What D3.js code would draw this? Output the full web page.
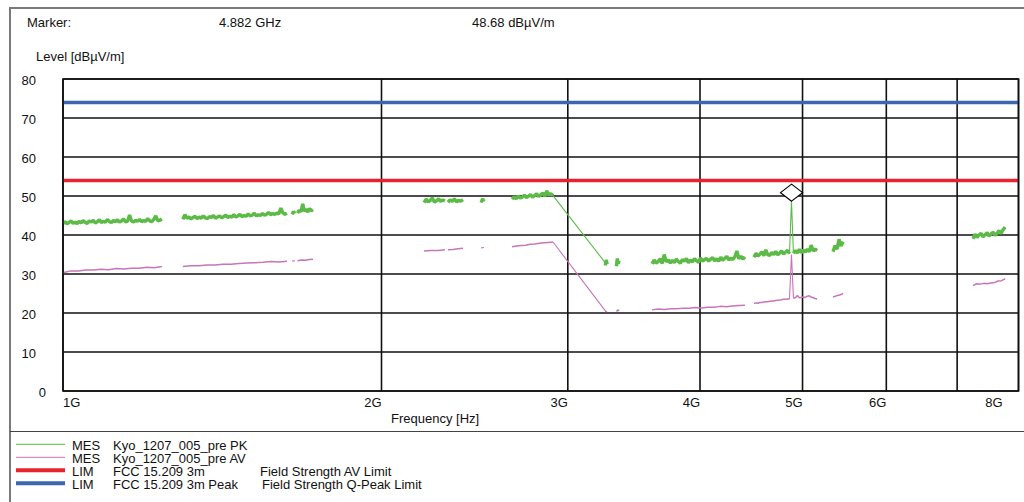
<!DOCTYPE html>
<html>
<head>
<meta charset="utf-8">
<script src="https://cdn.jsdelivr.net/npm/d3@7"></script>
<style>
  html, body { margin: 0; padding: 0; background: #fff; }
  svg { display: block; font-family: "Liberation Sans", Arial, sans-serif; }
</style>
</head>
<body>
<svg id="chart" width="1024" height="502"></svg>
<script>
// ---- Data ---------------------------------------------------------------
// Frequency axis ticks (GHz) and their labels; 7 GHz gets a grid line only.
const freqTicks = [1, 2, 3, 4, 5, 6, 7, 8];
const freqLabels = ["1G", "2G", "3G", "4G", "5G", "6G", "", "8G"];
const levelTicks = [0, 10, 20, 30, 40, 50, 60, 70, 80];

// Limit lines (dBµV/m)
const avLimit = 54;
const peakLimit = 74;

// Marker readout
const markerFreq = 4.882;   // GHz
const markerLevel = 48.68;  // dBµV/m

// Peak trace: each sweep part is [start GHz, stop GHz, levels dBµV/m]
const pkTrace = [
  [1.000, 1.240, [43.0, 43.4, 42.9, 43.2, 43.6, 43.0, 43.3, 42.9, 43.5, 43.1,
                  43.7, 43.2, 43.0, 43.6, 43.3, 43.8, 43.1, 43.4, 43.9, 43.2,
                  43.5, 43.3, 44.0, 43.4, 43.2, 43.7, 43.4, 43.9, 43.3, 43.6,
                  44.1, 43.4, 43.5, 45.1, 43.6, 43.3, 43.8, 43.5, 44.0, 43.4,
                  43.7, 43.5, 44.2, 43.6, 43.4, 44.0, 44.9, 43.6, 43.8, 44.1]],
  [1.298, 1.628, [44.0, 45.2, 44.3, 44.6, 44.1, 44.5, 44.8, 44.2, 44.6, 44.3,
                  44.9, 44.4, 44.2, 44.7, 44.5, 45.0, 44.3, 44.6, 44.9, 44.4,
                  44.7, 45.1, 44.5, 44.8, 44.6, 45.2, 44.6, 44.9, 45.3, 44.7,
                  45.0, 44.8, 45.4, 44.9, 45.1, 45.6, 44.9, 45.2, 45.0, 45.5,
                  45.1, 45.3, 45.8, 45.2, 45.5, 45.3, 45.6, 45.4, 46.9, 45.7,
                  45.3, 45.6]],
  [1.646, 1.657, [45.3, 46.0, 45.5]],
  [1.666, 1.723, [45.6, 46.4, 45.9, 48.0, 46.1, 46.6, 45.9, 46.8, 46.2, 46.5]],
  [2.194, 2.296, [48.3, 49.2, 48.5, 48.9, 49.5, 48.4, 48.8, 49.3, 48.6, 49.0, 48.7]],
  [2.311, 2.388, [48.4, 49.0, 48.6, 49.3, 48.5, 48.9, 48.7, 49.1]],
  [2.484, 2.500, [48.3, 49.3, 48.6]],
  [2.657, 2.905, [49.2, 49.8, 49.3, 50.0, 49.5, 49.7, 50.2, 49.6, 49.9, 50.4,
                  49.7, 50.1, 50.6, 49.9, 50.3, 50.8, 50.0, 51.3, 50.2, 50.6, 50.1]],
  [2.905, 3.261, [50.1, 32.6]],
  [3.255, 3.268, [32.2, 33.6, 32.5]],
  [3.335, 3.354, [32.0, 34.0, 32.6, 33.4]],
  [3.604, 4.411, [32.6, 33.6, 32.8, 33.2, 33.9, 32.7, 35.0, 33.1, 33.7, 32.8,
                  33.5, 32.9, 33.8, 33.2, 32.8, 33.7, 33.3, 34.0, 32.9, 33.6,
                  33.1, 33.9, 33.4, 33.0, 34.1, 33.3, 33.7, 34.0, 33.3, 33.8,
                  34.2, 33.4, 33.9, 33.3, 34.3, 33.5, 34.0, 34.5, 33.6, 34.1,
                  33.7, 34.4, 35.9, 33.9, 34.6, 33.8, 34.4]],
  [4.499, 5.161, [34.3, 35.3, 34.6, 35.1, 35.7, 34.7, 36.2, 34.9, 34.8, 35.5,
                  35.0, 35.8, 34.9, 35.4, 35.9, 35.1, 35.6, 36.1, 35.2, 48.68,
                  35.3, 36.0, 35.4, 36.3, 35.5, 36.1, 35.6, 36.4, 35.7, 37.4,
                  35.9, 36.4, 36.0]],
  [5.343, 5.461, [35.7, 37.3, 36.4, 38.9, 37.2, 38.3]],
  [7.246, 7.771, [39.0, 40.2, 39.4, 40.0, 40.4, 39.5, 40.1, 40.6, 39.7, 40.3,
                  40.7, 39.9, 40.5, 41.1, 40.4, 41.4, 42.0]]
];

// Average trace, same layout
const avTrace = [
  [1.000, 1.240, [30.3, 30.8, 30.8, 31.0, 31.0, 31.2, 31.1, 31.4, 31.3, 31.5, 31.5, 31.7, 31.6, 31.9]],
  [1.298, 1.628, [31.9, 32.1, 32.1, 32.3, 32.3, 32.5, 32.5, 32.7, 32.8, 32.9, 33.0, 33.2, 33.1, 33.3]],
  [1.646, 1.657, [33.3, 33.4]],
  [1.666, 1.723, [33.4, 33.6, 33.5, 33.7, 33.8]],
  [2.194, 2.296, [35.9, 36.0, 36.0, 36.2]],
  [2.311, 2.388, [36.2, 36.3, 36.5, 36.6]],
  [2.484, 2.500, [36.7, 36.8]],
  [2.657, 2.905, [37.0, 37.2, 37.3, 37.4, 37.6, 37.7, 37.9, 38.0, 38.1, 38.2]],
  [2.905, 3.261, [38.2, 20.3]],
  [3.255, 3.268, [20.3, 20.4]],
  [3.335, 3.354, [20.4, 20.8, 20.5]],
  [3.604, 4.411, [20.8, 21.0, 20.9, 21.1, 21.1, 21.2, 21.2, 21.4, 21.3, 21.5, 21.5, 21.7, 21.6, 21.8, 21.9, 22.0]],
  [4.499, 5.161, [22.4, 22.6, 22.5, 22.7, 22.7, 22.8, 22.9, 22.9, 23.0, 23.1, 23.1, 23.2, 23.3, 23.3, 23.4, 23.5, 23.5, 23.6, 23.6, 35.0, 23.8, 23.9, 24.5, 23.9, 24.0, 24.1, 24.0, 24.3, 24.4, 24.1, 23.9, 23.7, 23.6]],
  [5.343, 5.461, [24.1, 24.4, 24.6, 25.0]],
  [7.246, 7.771, [27.0, 27.5, 27.4, 27.6, 27.5, 27.7, 27.8, 28.2, 28.3, 28.8]]
];

// Legend rows: [type, name, description]
const legendRows = [
  ["MES", "Kyo_1207_005_pre PK", ""],
  ["MES", "Kyo_1207_005_pre AV", ""],
  ["LIM", "FCC 15.209 3m", "Field Strength AV Limit"],
  ["LIM", "FCC 15.209 3m Peak", "Field Strength Q-Peak Limit"]
];

// ---- Styles -------------------------------------------------------------
const colors = { pk: "#5cbb47", av: "#c875b9", avLim: "#e8232b", pkLim: "#3c67b0" };
const legendStyles = [
  { color: colors.pk, width: 1 },
  { color: colors.av, width: 1 },
  { color: colors.avLim, width: 4 },
  { color: colors.pkLim, width: 4 }
];

const svg = d3.select("#chart");
const plot = { left: 63, right: 1018.5, top: 79, bottom: 391 };

const x = d3.scaleLog().domain([1e9, 8e9]).range([plot.left, plot.right]);
const y = d3.scaleLinear().domain([0, 80]).range([plot.bottom, plot.top]);

// ---- Outer frame ------------------------------------------------------------
svg.append("line").attr("x1", 10).attr("x2", 1024).attr("y1", 8).attr("y2", 8)
  .attr("stroke", "#7a7a7a").attr("stroke-width", 2);
svg.append("line").attr("x1", 10).attr("x2", 10).attr("y1", 7).attr("y2", 502)
  .attr("stroke", "#7a7a7a").attr("stroke-width", 2);
svg.append("line").attr("x1", 10).attr("x2", 1024).attr("y1", 431.5).attr("y2", 431.5)
  .attr("stroke", "#444").attr("stroke-width", 1.2);

// ---- Header -------------------------------------------------------------
const hdr = svg.append("g").attr("font-size", 13).attr("fill", "#111");
hdr.append("text").attr("x", 27).attr("y", 27).text("Marker:");
hdr.append("text").attr("x", 219).attr("y", 27).text(`${markerFreq.toFixed(3)} GHz`);
hdr.append("text").attr("x", 472).attr("y", 27).text(`${markerLevel.toFixed(2)} dBµV/m`);
hdr.append("text").attr("x", 36).attr("y", 61).text("Level [dBµV/m]");

// ---- Grid ---------------------------------------------------------------
const grid = svg.append("g").attr("stroke", "#111").attr("stroke-width", 1.6);
grid.selectAll("line.h").data(levelTicks).join("line")
  .attr("x1", plot.left).attr("x2", plot.right)
  .attr("y1", d => y(d)).attr("y2", d => y(d));
grid.selectAll("line.v").data(freqTicks).join("line")
  .attr("x1", d => x(d * 1e9)).attr("x2", d => x(d * 1e9))
  .attr("y1", plot.top).attr("y2", plot.bottom);

// ---- Axis labels ----------------------------------------------------------
const yLab = svg.append("g").attr("font-size", 13).attr("fill", "#111");
yLab.selectAll("text").data(levelTicks).join("text")
  .attr("x", d => (d === 0 ? 46 : 36))
  .attr("y", d => y(d) + 5.5)
  .attr("text-anchor", "end")
  .text(d => d);

const xLab = svg.append("g").attr("font-size", 13).attr("fill", "#111");
xLab.selectAll("text").data(freqTicks.map((f, i) => ({ f, label: freqLabels[i], i })))
  .join("text")
  .attr("x", d => d.i === 0 ? x(d.f * 1e9) : (d.i === freqTicks.length - 1 ? x(d.f * 1e9) - 16 : x(d.f * 1e9)))
  .attr("y", 407)
  .attr("text-anchor", d => d.i === 0 ? "start" : "end")
  .text(d => d.label);

svg.append("text").attr("x", 391).attr("y", 423).attr("font-size", 13).attr("fill", "#111")
  .text("Frequency [Hz]");

// ---- Limits -------------------------------------------------------------
svg.append("line").attr("x1", plot.left).attr("x2", plot.right)
  .attr("y1", y(peakLimit)).attr("y2", y(peakLimit))
  .attr("stroke", colors.pkLim).attr("stroke-width", 3.5);
svg.append("line").attr("x1", plot.left).attr("x2", plot.right)
  .attr("y1", y(avLimit)).attr("y2", y(avLimit))
  .attr("stroke", colors.avLim).attr("stroke-width", 3.5);

// ---- Traces -------------------------------------------------------------
// Sweep points are spaced logarithmically between start and stop.
function sweepPoints([start, stop, levels]) {
  const n = levels.length;
  return levels.map((v, i) => {
    const f = n === 1 ? start : start * Math.pow(stop / start, i / (n - 1));
    return [f * 1e9, v];
  });
}
const line = d3.line().x(d => x(d[0])).y(d => y(d[1]));

// Split a sweep into dense runs and isolated spikes (a jump of more than
// `jump` dB above both neighbours); spikes are drawn as thin needles.
function splitSpikes(pts, jump) {
  const runs = [], needles = [];
  let run = [];
  pts.forEach((p, i) => {
    const prev = pts[i - 1], next = pts[i + 1];
    const spike = prev && next && p[1] - prev[1] > jump && p[1] - next[1] > jump;
    if (spike) {
      if (run.length) runs.push(run);
      run = [];
      needles.push([prev, p, next]);
    } else run.push(p);
  });
  if (run.length) runs.push(run);
  return { runs, needles };
}

function drawTrace(trace, color, bandWidth, thinWidth) {
  const g = svg.append("g").attr("fill", "none").attr("stroke", color)
    .attr("stroke-linejoin", "bevel");
  trace.forEach(seg => {
    const pts = sweepPoints(seg);
    if (pts.length <= 2) {
      g.append("path").attr("d", line(pts)).attr("stroke-width", thinWidth);
      return;
    }
    const { runs, needles } = splitSpikes(pts, 6);
    runs.forEach(r => g.append("path").attr("d", line(r)).attr("stroke-width", bandWidth));
    needles.forEach(nd => g.append("path").attr("d", line(nd)).attr("stroke-width", thinWidth));
  });
}

drawTrace(avTrace, colors.av, 1.5, 1.1);
drawTrace(pkTrace, colors.pk, 3.4, 1.1);

// ---- Marker -------------------------------------------------------------
const mx = x(markerFreq * 1e9), my = y(markerLevel);
svg.append("path")
  .attr("d", `M${mx},${my} L${mx + 11},${my - 8.5} L${mx},${my - 17} L${mx - 11},${my - 8.5} Z`)
  .attr("fill", "#fff").attr("stroke", "#000").attr("stroke-width", 1.2);

// ---- Border ---------------------------------------------------------------
svg.append("rect").attr("x", plot.left).attr("y", plot.top)
  .attr("width", plot.right - plot.left).attr("height", plot.bottom - plot.top)
  .attr("fill", "none").attr("stroke", "#111").attr("stroke-width", 1.6);

// ---- Legend -------------------------------------------------------------
const leg = svg.append("g").attr("font-size", 13).attr("fill", "#111");
legendRows.forEach((r, i) => {
  const ly = 444.3 + i * 13;
  leg.append("line").attr("x1", 16).attr("x2", 65).attr("y1", ly).attr("y2", ly)
    .attr("stroke", legendStyles[i].color).attr("stroke-width", legendStyles[i].width);
  leg.append("text").attr("x", 72).attr("y", ly + 5.5).text(r[0]);
  leg.append("text").attr("x", 113).attr("y", ly + 5.5).text(r[1]);
  if (r[2]) leg.append("text").attr("x", i === 3 ? 262 : 260).attr("y", ly + 5.5).text(r[2]);
});
</script>
</body>
</html>
